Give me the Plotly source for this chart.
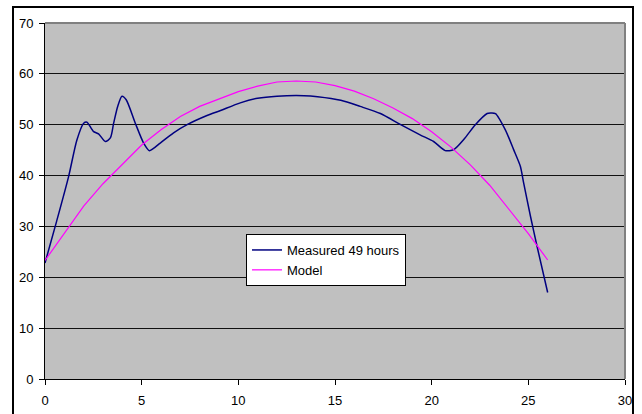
import plotly.graph_objects as go

measured_x = [0, 0.6, 1.22, 1.65, 2.0, 2.17, 2.5, 2.77, 3.12, 3.38, 3.55, 3.76, 3.98, 4.2,
              4.67, 5.1, 5.4, 5.96, 6.65, 7.35, 8.38, 9.08, 10.1, 11.0, 12.0, 13.4, 14.1,
              15.3, 16.3, 17.35, 18.4, 19.4, 20.1, 20.7, 21.14, 21.66, 22.26, 22.87, 23.04,
              23.3, 23.81, 24.24, 24.59, 24.76, 25.11, 25.45, 26.0]
measured_y = [22.8, 31.0, 39.8, 47.0, 50.3, 50.5, 48.7, 48.2, 46.7, 47.4, 50.3, 53.6, 55.6, 54.9,
              50.3, 46.4, 44.9, 46.4, 48.4, 50.0, 51.8, 52.8, 54.3, 55.2, 55.6, 55.7, 55.5,
              54.8, 53.6, 52.2, 50.0, 48.0, 46.7, 44.9, 45.1, 47.1, 50.0, 52.2, 52.3,
              52.2, 49.0, 45.1, 41.8, 38.5, 32.0, 26.1, 17.0]

model_x = list(range(0, 27))
model_y = [23.3, 28.7, 34.0, 38.4, 42.3, 46.0, 49.0, 51.6, 53.6, 55.1, 56.5, 57.6, 58.4, 58.6,
           58.4, 57.7, 56.6, 55.1, 53.3, 51.2, 48.6, 45.6, 42.1, 38.1, 33.4, 28.6, 23.4]

series_names = ["Measured 49 hours", "Model"]

L, R, T, B = 45, 17, 23, 35
W, H = 642, 414
pw, ph = W - L - R, H - T - B

def px_x(p):
    return (p - L) / pw

def px_y(p):
    return (H - B - p) / ph

fig = go.Figure()
fig.add_trace(go.Scatter(x=measured_x, y=measured_y, mode="lines", name=series_names[0],
                         line=dict(color="#000080", width=1.5, shape="spline", smoothing=0.7)))
fig.add_trace(go.Scatter(x=model_x, y=model_y, mode="lines", name=series_names[1],
                         line=dict(color="#FF00FF", width=1.2)))

font = dict(family="Liberation Sans, Arial, sans-serif", size=13, color="black")

fig.update_layout(
    width=W, height=H,
    margin=dict(l=L, r=R, t=T, b=B, pad=0, autoexpand=False),
    paper_bgcolor="white",
    plot_bgcolor="#C0C0C0",
    font=font,
    showlegend=True,
    legend=dict(x=px_x(246), y=px_y(234), xanchor="left", yanchor="top",
                bgcolor="white", bordercolor="black", borderwidth=1,
                font=font, itemwidth=30, tracegroupgap=0),
    xaxis=dict(range=[0, 30], dtick=5, tick0=0, showgrid=False, zeroline=False,
               showline=True, linecolor="black", linewidth=1,
               ticks="outside", ticklen=5, tickcolor="black", tickwidth=1,
               ticklabelstandoff=4, automargin=False, fixedrange=True),
    yaxis=dict(range=[0, 70], dtick=10, tick0=0, showgrid=True, gridcolor="#111111",
               gridwidth=1, zeroline=False,
               showline=True, linecolor="black", linewidth=1,
               ticks="outside", ticklen=5, tickcolor="black", tickwidth=1,
               ticklabelstandoff=3, automargin=False, fixedrange=True),
    shapes=[
        dict(type="line", xref="paper", yref="paper", x0=0, x1=1, y0=1, y1=1,
             line=dict(color="#808080", width=2), layer="above"),
        dict(type="line", xref="paper", yref="paper", x0=1, x1=1, y0=0, y1=1,
             line=dict(color="#808080", width=2), layer="above"),
        dict(type="rect", xref="paper", yref="paper",
             x0=px_x(13), x1=px_x(633), y0=px_y(430), y1=px_y(7),
             line=dict(color="black", width=2), layer="above"),
    ],
)

fig.write_html("out.html", config={"displayModeBar": False},
               post_script="document.body.style.margin='0px';")
